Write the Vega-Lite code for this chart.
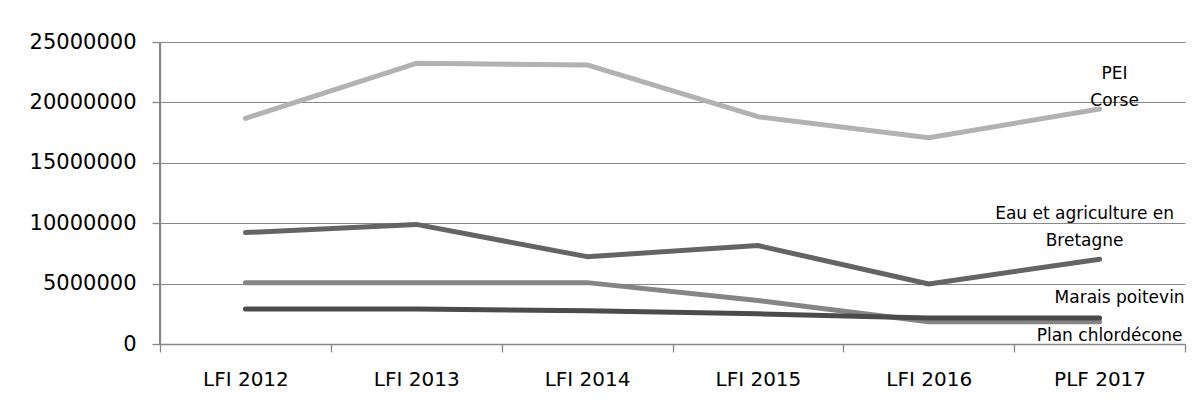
{
  "$schema": "https://vega.github.io/schema/vega-lite/v6.json",
  "autosize": {"type": "none"},
  "padding": {"left": 160, "top": 42, "right": 16, "bottom": 57},
  "width": 1025,
  "height": 302,
  "background": "white",
  "config": {
    "view": {"stroke": null},
    "font": "DejaVu Sans",
    "axis": {
      "domainColor": "#878787",
      "tickColor": "#878787",
      "gridColor": "#878787",
      "domainWidth": 1.3,
      "tickWidth": 1.3,
      "gridWidth": 1.2,
      "tickSize": 8,
      "labelColor": "#000000",
      "labelFont": "DejaVu Sans",
      "labelFontSize": 20,
      "title": null
    }
  },
  "data": {
    "values": [
      {"year": "LFI 2012", "series": "PEI Corse", "value": 18680000},
      {"year": "LFI 2013", "series": "PEI Corse", "value": 23240000},
      {"year": "LFI 2014", "series": "PEI Corse", "value": 23100000},
      {"year": "LFI 2015", "series": "PEI Corse", "value": 18820000},
      {"year": "LFI 2016", "series": "PEI Corse", "value": 17080000},
      {"year": "PLF 2017", "series": "PEI Corse", "value": 19450000},
      {"year": "LFI 2012", "series": "Eau et agriculture en Bretagne", "value": 9220000},
      {"year": "LFI 2013", "series": "Eau et agriculture en Bretagne", "value": 9900000},
      {"year": "LFI 2014", "series": "Eau et agriculture en Bretagne", "value": 7230000},
      {"year": "LFI 2015", "series": "Eau et agriculture en Bretagne", "value": 8150000},
      {"year": "LFI 2016", "series": "Eau et agriculture en Bretagne", "value": 4970000},
      {"year": "PLF 2017", "series": "Eau et agriculture en Bretagne", "value": 7020000},
      {"year": "LFI 2012", "series": "Marais poitevin", "value": 5080000},
      {"year": "LFI 2013", "series": "Marais poitevin", "value": 5080000},
      {"year": "LFI 2014", "series": "Marais poitevin", "value": 5080000},
      {"year": "LFI 2015", "series": "Marais poitevin", "value": 3610000},
      {"year": "LFI 2016", "series": "Marais poitevin", "value": 1850000},
      {"year": "PLF 2017", "series": "Marais poitevin", "value": 1850000},
      {"year": "LFI 2012", "series": "Plan chlordécone", "value": 2900000},
      {"year": "LFI 2013", "series": "Plan chlordécone", "value": 2900000},
      {"year": "LFI 2014", "series": "Plan chlordécone", "value": 2760000},
      {"year": "LFI 2015", "series": "Plan chlordécone", "value": 2500000},
      {"year": "LFI 2016", "series": "Plan chlordécone", "value": 2150000},
      {"year": "PLF 2017", "series": "Plan chlordécone", "value": 2150000}
    ]
  },
  "encoding": {
    "x": {
      "field": "year",
      "type": "nominal",
      "bandPosition": 0.5,
      "scale": {"type": "band", "paddingInner": 0, "paddingOuter": 0},
      "axis": {"tickBand": "extent", "labelAngle": 0, "labelPadding": 17, "grid": false, "domain": true, "title": null}
    },
    "y": {
      "field": "value",
      "type": "quantitative",
      "scale": {"domain": [0, 25000000], "nice": false},
      "axis": {"values": [0, 5000000, 10000000, 15000000, 20000000, 25000000], "format": "d", "labelPadding": 16, "labelFontSize": 21, "grid": true, "domain": true, "domainColor": "#878787", "title": null}
    }
  },
  "layer": [
    {
      "mark": {"type": "rule", "color": "#878787", "strokeWidth": 1.3},
      "encoding": {
        "x": {"datum": "LFI 2012", "type": "nominal", "bandPosition": 0},
        "y": {"datum": 0, "type": "quantitative"},
        "y2": {"datum": 25000000}
      }
    },
    {
      "mark": {"type": "line", "strokeWidth": 5, "strokeCap": "round", "strokeJoin": "round"},
      "encoding": {
        "color": {
          "field": "series",
          "type": "nominal",
          "scale": {
            "domain": ["PEI Corse", "Eau et agriculture en Bretagne", "Marais poitevin", "Plan chlordécone"],
            "range": ["#b2b2b2", "#646464", "#858585", "#4b4b4b"]
          },
          "legend": null
        }
      }
    },
    {
      "transform": [{"filter": "datum.series === 'PEI Corse' && datum.year === 'PLF 2017'"}],
      "mark": {"type": "text", "text": ["PEI", "Corse"], "fontSize": 17, "align": "center", "baseline": "alphabetic", "lineHeight": 27, "dx": 15, "dy": -30, "color": "#000000"}
    },
    {
      "transform": [{"filter": "datum.series === 'Eau et agriculture en Bretagne' && datum.year === 'PLF 2017'"}],
      "mark": {"type": "text", "text": ["Eau et agriculture en", "Bretagne"], "fontSize": 17, "align": "center", "baseline": "alphabetic", "lineHeight": 27, "dx": -15, "dy": -40, "color": "#000000"}
    },
    {
      "transform": [{"filter": "datum.series === 'Marais poitevin' && datum.year === 'PLF 2017'"}],
      "mark": {"type": "text", "text": "Marais poitevin", "fontSize": 17, "align": "center", "baseline": "alphabetic", "dx": 20, "dy": -19, "color": "#000000"}
    },
    {
      "transform": [{"filter": "datum.series === 'Plan chlordécone' && datum.year === 'PLF 2017'"}],
      "mark": {"type": "text", "text": "Plan chlordécone", "fontSize": 17, "align": "center", "baseline": "alphabetic", "dx": 10, "dy": 23, "color": "#000000"}
    }
  ]
}
